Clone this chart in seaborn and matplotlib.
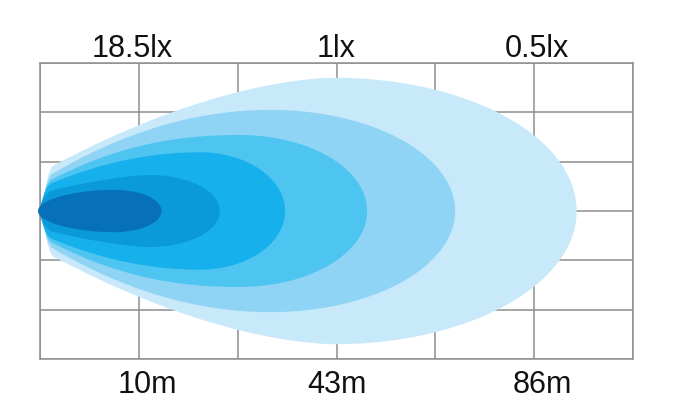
import numpy as np
import matplotlib
matplotlib.use("Agg")
import matplotlib.pyplot as plt
import seaborn as sns

# beam zones, outermost (weakest light) first; units = grid cells
zone_colors = ["#c7e9fa", "#8fd4f5", "#4ec5f1", "#16b1ec", "#0b9ad9", "#0671b9"]
reach = [5.43, 4.20, 3.31, 2.48, 1.82, 1.23]        # far end of each zone
peak_at = [2.985, 2.33, 2.02, 1.62, 1.11, 0.75]     # where the zone is widest
spread = [2.70, 2.05, 1.54, 1.19, 0.73, 0.43]       # max half width
start_width = [0.82, 0.64, 0.53, 0.47, 0.36, 0.41]  # half width at the lamp
rise = [1.7, 2.0, 2.2, 2.0, 1.5, 1.5]               # how fast it opens up
start_x = [0.04, 0.03, 0.02, 0.01, 0.0, -0.02]
cap_len = [0.10, 0.10, 0.10, 0.11, 0.13, 0.77]

lux_labels = ["18.5lx", "1lx", "0.5lx"]
lux_pos = [0.93, 3.0, 5.03]
dist_labels = ["10m", "43m", "86m"]
dist_pos = [1.09, 3.0, 5.08]


def outline(x0, r, w0, b, cx, R, p, n=300):
    xl = np.linspace(x0, cx, n)
    t = (cx - xl) / (cx - x0)
    w = w0 + (b - w0) * (1 - t ** p)
    c = np.ones_like(xl)
    m = xl < x0 + r
    c[m] = np.sqrt(np.clip(1 - ((x0 + r - xl[m]) / r) ** 2, 0, 1))
    yl = w * c
    th = np.linspace(np.pi / 2, 0, n)
    xr = cx + (R - cx) * np.cos(th)
    yr = b * np.sin(th)
    tx = np.concatenate([xl, xr])
    ty = np.concatenate([yl, yr])
    return np.concatenate([tx, tx[::-1]]), np.concatenate([ty, -ty[::-1]])


sns.set_style("white")
plt.rcParams["font.family"] = ["Liberation Sans", "DejaVu Sans"]

fig = plt.figure(figsize=(7, 4.11), dpi=100)
ax = fig.add_axes([40 / 700, 52 / 411, 593 / 700, 296 / 411])

for i in range(len(reach)):
    xs, ys = outline(start_x[i], cap_len[i], start_width[i], spread[i],
                     peak_at[i], reach[i], rise[i])
    ax.fill(xs, ys, color=zone_colors[i], lw=0, zorder=2 + i, clip_on=False)

ax.set_xlim(0, 6)
ax.set_ylim(-3, 3)
ax.set_xticks(range(7))
ax.set_yticks(range(-3, 4))
ax.grid(True, color="#8e8e8e", lw=1.1)
ax.set_axisbelow(True)
ax.tick_params(length=0, labelbottom=False, labelleft=False)
for s in ax.spines.values():
    s.set_color("#8e8e8e")
    s.set_linewidth(1.1)
    s.set_zorder(0)

for lab, x in zip(lux_labels, lux_pos):
    ax.text(x, 3.12, lab, ha="center", va="baseline", fontsize=22, color="#111111")
for lab, x in zip(dist_labels, dist_pos):
    ax.text(x, -3.69, lab, ha="center", va="baseline", fontsize=22, color="#111111")

fig.savefig("out.png", dpi=100)
